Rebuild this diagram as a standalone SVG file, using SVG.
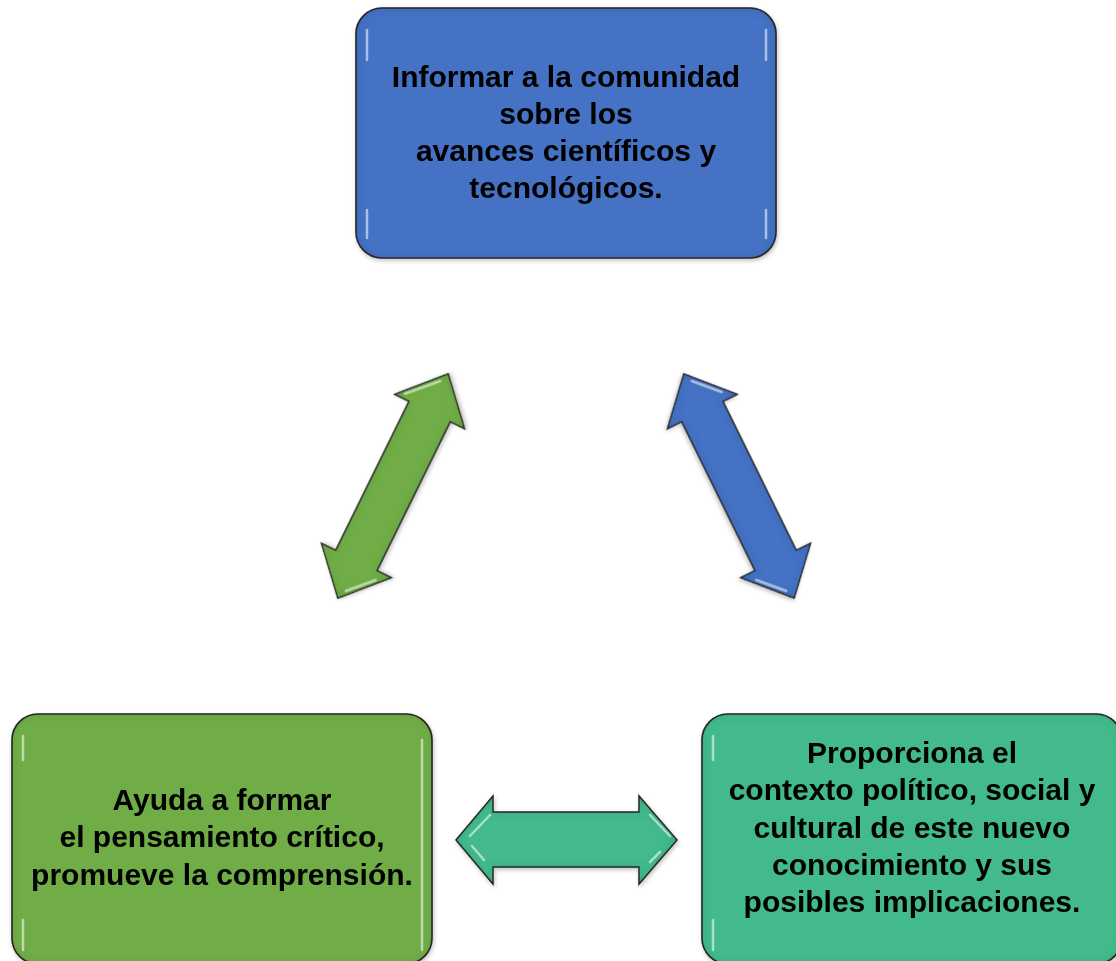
<svg xmlns="http://www.w3.org/2000/svg" width="1116" height="961" viewBox="0 0 1116 961">
  <defs>
    <filter id="bevel" x="-10%" y="-10%" width="120%" height="120%">
      <feGaussianBlur in="SourceAlpha" stdDeviation="4" result="b"/>
      <feComposite in="SourceAlpha" in2="b" operator="out" result="edge"/>
      <feFlood flood-color="#000" flood-opacity="0.28"/>
      <feComposite in2="edge" operator="in" result="shade"/>
      <feMerge><feMergeNode in="SourceGraphic"/><feMergeNode in="shade"/></feMerge>
    </filter>
    <filter id="shadow" x="-10%" y="-10%" width="120%" height="120%">
      <feGaussianBlur in="SourceAlpha" stdDeviation="2"/>
      <feOffset dx="1" dy="2" result="o"/>
      <feFlood flood-color="#000" flood-opacity="0.25"/>
      <feComposite in2="o" operator="in"/>
      <feMerge><feMergeNode/><feMergeNode in="SourceGraphic"/></feMerge>
    </filter>
  </defs>
  <style>
    .box { stroke: #2b2b2b; stroke-width: 1.6; }
    .arrow { stroke: #2b2b2b; stroke-width: 1.4; stroke-linejoin: miter; }
    .blue { fill: #4472C4; }
    .green { fill: #70AD47; }
    .teal { fill: #43BA8B; }
    .hl { stroke: #ffffff; stroke-opacity: 0.55; stroke-width: 2.5; stroke-linecap: round; fill: none; }
    .lbl { font-family: "Liberation Sans", Arial, sans-serif; font-weight: bold; font-size: 30px; fill: #000; text-anchor: middle; }
  </style>
  <rect width="1116" height="961" fill="#ffffff"/>

  <g id="connectors">
    <g id="arrow-green" transform="translate(393,486) rotate(-63.8)" filter="url(#shadow)">
      <polygon class="arrow green" filter="url(#bevel)" points="-125,0 -83,-39 -83,-23 83,-23 83,-39 125,0 83,39 83,23 -83,23 -83,39"/>
      <path class="hl" d="M 88,-30 L 115,-4 M -115,4 L -92,26"/>
    </g>
    <g id="arrow-blue" transform="translate(739,486) rotate(63.8)" filter="url(#shadow)">
      <polygon class="arrow blue" filter="url(#bevel)" points="-125,0 -83,-39 -83,-23 83,-23 83,-39 125,0 83,39 83,23 -83,23 -83,39"/>
      <path class="hl" d="M -115,-4 L -92,-26 M 92,26 L 115,4"/>
    </g>
    <g id="arrow-teal" filter="url(#shadow)">
      <polygon class="arrow teal" filter="url(#bevel)" points="456,840 493,796 493,812 639,812 639,796 677,840 639,884 639,867 493,867 493,884"/>
      <path class="hl" d="M 470,836 L 490,815 M 670,836 L 650,815 M 472,846 L 484,860 M 650,862 L 660,852"/>
    </g>
  </g>

  <g id="node-top" filter="url(#shadow)">
    <rect class="box blue" filter="url(#bevel)" x="356" y="8" width="420" height="250" rx="26" ry="26"/>
    <path class="hl" d="M 367,30 L 367,60 M 766,30 L 766,60 M 367,210 L 367,238 M 766,210 L 766,238"/>
    <text class="lbl" x="566" y="87">Informar a la comunidad</text>
    <text class="lbl" x="566" y="124">sobre los</text>
    <text class="lbl" x="566" y="161">avances científicos y</text>
    <text class="lbl" x="566" y="198">tecnológicos.</text>
  </g>

  <g id="node-left" filter="url(#shadow)">
    <rect class="box green" filter="url(#bevel)" x="12" y="714" width="420" height="250" rx="26" ry="26"/>
    <path class="hl" d="M 23,736 L 23,760 M 422,740 L 422,950 M 23,920 L 23,950"/>
    <text class="lbl" x="222" y="810">Ayuda a formar</text>
    <text class="lbl" x="222" y="847">el pensamiento crítico,</text>
    <text class="lbl" x="222" y="885">promueve la comprensión.</text>
  </g>

  <g id="node-right" filter="url(#shadow)">
    <rect class="box teal" filter="url(#bevel)" x="702" y="714" width="420" height="250" rx="26" ry="26"/>
    <path class="hl" d="M 713,736 L 713,760 M 713,920 L 713,950"/>
    <text class="lbl" x="912" y="763">Proporciona el</text>
    <text class="lbl" x="912" y="800">contexto político, social y</text>
    <text class="lbl" x="912" y="838">cultural de este nuevo</text>
    <text class="lbl" x="912" y="875">conocimiento y sus</text>
    <text class="lbl" x="912" y="912">posibles implicaciones.</text>
  </g>
</svg>
